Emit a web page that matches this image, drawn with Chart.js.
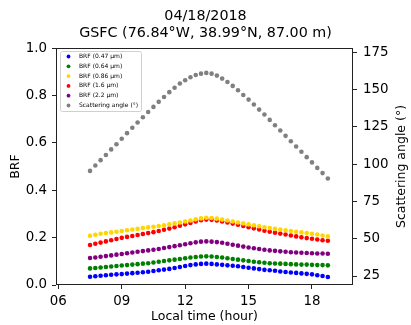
<!DOCTYPE html>
<html>
<head>
<meta charset="utf-8">
<script src="https://cdn.jsdelivr.net/npm/chart.js@4.4.1/dist/chart.umd.min.js"></script>
<style>
    html, body { margin: 0; padding: 0; background: #fff; }
    #wrap { width: 411px; height: 325px; position: relative; }
</style>
</head>
<body>
<div id="wrap"><canvas id="brfChart"></canvas></div>
<script>
// Heure locale des mesures (pas de 15 min)
const heures = [7.5, 7.75, 8, 8.25, 8.5, 8.75, 9, 9.25, 9.5, 9.75, 10, 10.25, 10.5, 10.75, 11, 11.25,
    11.5, 11.75, 12, 12.25, 12.5, 12.75, 13, 13.25, 13.5, 13.75, 14, 14.25, 14.5, 14.75, 15, 15.25,
    15.5, 15.75, 16, 16.25, 16.5, 16.75, 17, 17.25, 17.5, 17.75, 18, 18.25, 18.5, 18.75];

// BRF par longueur d'onde
const brf047 = [0.035, 0.037, 0.039, 0.041, 0.043, 0.045, 0.046, 0.048, 0.050, 0.052, 0.054, 0.056,
    0.059, 0.062, 0.065, 0.068, 0.072, 0.076, 0.080, 0.084, 0.087, 0.089, 0.090, 0.089, 0.087, 0.085,
    0.083, 0.081, 0.079, 0.076, 0.073, 0.070, 0.067, 0.064, 0.062, 0.060, 0.057, 0.055, 0.053, 0.051,
    0.049, 0.047, 0.045, 0.041, 0.038, 0.034];
const brf064 = [0.070, 0.072, 0.074, 0.076, 0.078, 0.080, 0.082, 0.084, 0.086, 0.088, 0.090, 0.092,
    0.095, 0.098, 0.101, 0.104, 0.107, 0.110, 0.113, 0.116, 0.118, 0.120, 0.121, 0.120, 0.118, 0.116,
    0.113, 0.110, 0.107, 0.104, 0.101, 0.098, 0.096, 0.094, 0.092, 0.091, 0.090, 0.089, 0.088, 0.087,
    0.086, 0.086, 0.085, 0.084, 0.084, 0.083];
const brf086 = [0.208, 0.212, 0.216, 0.219, 0.222, 0.225, 0.228, 0.231, 0.234, 0.237, 0.240, 0.243,
    0.246, 0.249, 0.252, 0.256, 0.260, 0.264, 0.268, 0.272, 0.277, 0.281, 0.284, 0.283, 0.280, 0.276,
    0.272, 0.268, 0.264, 0.260, 0.256, 0.252, 0.248, 0.244, 0.240, 0.237, 0.234, 0.231, 0.228, 0.225,
    0.222, 0.219, 0.216, 0.213, 0.209, 0.205];
const brf16 = [0.169, 0.174, 0.179, 0.184, 0.189, 0.194, 0.199, 0.203, 0.207, 0.211, 0.215, 0.219,
    0.223, 0.228, 0.233, 0.238, 0.244, 0.250, 0.256, 0.262, 0.268, 0.273, 0.276, 0.275, 0.272, 0.268,
    0.264, 0.259, 0.254, 0.249, 0.244, 0.239, 0.234, 0.229, 0.225, 0.221, 0.217, 0.213, 0.209, 0.205,
    0.201, 0.198, 0.195, 0.192, 0.189, 0.187];
const brf22 = [0.114, 0.116, 0.119, 0.122, 0.125, 0.128, 0.131, 0.134, 0.137, 0.140, 0.143, 0.146,
    0.149, 0.152, 0.156, 0.160, 0.164, 0.168, 0.172, 0.176, 0.180, 0.183, 0.184, 0.183, 0.181, 0.178,
    0.174, 0.170, 0.166, 0.162, 0.158, 0.155, 0.152, 0.149, 0.146, 0.144, 0.142, 0.140, 0.138, 0.137,
    0.136, 0.135, 0.134, 0.133, 0.133, 0.132];

// Angle de diffusion (degrés)
const angleDiffusion = [95.5, 99.1, 102.7, 106.2, 109.9, 113.4, 117.1, 120.8, 124.4, 128.0, 131.5,
    135.0, 138.4, 141.8, 145.1, 148.3, 151.3, 154.1, 156.3, 158.3, 159.8, 160.7, 161.2, 160.7, 159.4,
    157.4, 155.1, 152.5, 149.6, 146.4, 143.3, 140.0, 136.6, 133.3, 129.7, 126.1, 122.6, 119.0, 115.4,
    111.9, 108.3, 104.7, 101.2, 97.5, 94.0, 90.4];

// Graduations des axes
const ticksHeures = [6, 9, 12, 15, 18];
const ticksBrf = [0, 0.2, 0.4, 0.6, 0.8, 1.0];
const ticksAngle = [25, 50, 75, 100, 125, 150, 175];

const police = 'DejaVu Sans';

function serie(label, valeurs, couleur, axe) {
    return {
        label: label,
        data: heures.map((h, i) => ({ x: h, y: valeurs[i] })),
        backgroundColor: couleur,
        borderWidth: 0,
        pointRadius: 2.3,
        pointHoverRadius: 2.3,
        yAxisID: axe
    };
}

// Cadre des axes, titre de l'axe droit (lu de bas en haut) et légende
const cadreEtLegende = {
    id: 'cadreEtLegende',
    afterDatasetsDraw(chart) {
        const ctx = chart.ctx;
        const a = chart.chartArea;
        ctx.save();
        ctx.strokeStyle = '#222';
        ctx.lineWidth = 1;
        ctx.strokeRect(Math.round(a.left) + 0.5, Math.round(a.top) + 0.5,
            Math.round(a.right - a.left) - 1, Math.round(a.bottom - a.top) - 1);

        // titre de l'axe y1
        ctx.save();
        ctx.translate(chart.width - 9.5, (a.top + a.bottom) / 2);
        ctx.rotate(-Math.PI / 2);
        ctx.font = '12.5px "' + police + '"';
        ctx.fillStyle = '#000';
        ctx.textAlign = 'center';
        ctx.textBaseline = 'middle';
        ctx.fillText('Scattering angle (°)', 0, 0);
        ctx.restore();

        const x0 = a.left + 4, y0 = a.top + 3, w = 81, h = 60;
        ctx.beginPath();
        ctx.roundRect(x0 + 0.5, y0 + 0.5, w, h, 2);
        ctx.fillStyle = 'rgba(255,255,255,0.8)';
        ctx.fill();
        ctx.strokeStyle = '#d0d0d0';
        ctx.stroke();

        ctx.font = '6px "' + police + '"';
        ctx.textBaseline = 'middle';
        chart.data.datasets.forEach((ds, i) => {
            const y = y0 + 5.5 + i * 9.8;
            ctx.fillStyle = ds.backgroundColor;
            ctx.beginPath();
            ctx.arc(x0 + 8.5, y, 1.9, 0, Math.PI * 2);
            ctx.fill();
            ctx.fillStyle = '#000';
            ctx.fillText(ds.label, x0 + 19, y);
        });
        ctx.restore();
    }
};

document.addEventListener('DOMContentLoaded', function() {
    const ctx = document.getElementById('brfChart').getContext('2d');

    new Chart(ctx, {
        type: 'scatter',
        data: {
            datasets: [
                serie('BRF (0.47 μm)', brf047, '#0000ff', 'y'),
                serie('BRF (0.64 μm)', brf064, '#008000', 'y'),
                serie('BRF (0.86 μm)', brf086, '#ffd700', 'y'),
                serie('BRF (1.6 μm)', brf16, '#ff0000', 'y'),
                serie('BRF (2.2 μm)', brf22, '#800080', 'y'),
                serie('Scattering angle (°)', angleDiffusion, '#808080', 'y1')
            ]
        },
        options: {
            responsive: true,
            maintainAspectRatio: false,
            animation: false,
            events: [],
            layout: { padding: 0 },
            plugins: {
                legend: { display: false },
                tooltip: { enabled: false },
                title: {
                    display: true,
                    text: ['04/18/2018', 'GSFC (76.84°W, 38.99°N, 87.00 m)'],
                    color: '#000',
                    font: { family: police, size: 14.3, weight: 'normal' },
                    padding: { top: 7.4, bottom: 6.3 }
                }
            },
            scales: {
                x: {
                    type: 'linear',
                    min: 5.89,
                    max: 19.94,
                    afterFit: s => { s.height = 40; },
                    afterBuildTicks: s => { s.ticks = ticksHeures.map(v => ({ value: v })); },
                    border: { display: false },
                    grid: { drawOnChartArea: false, tickLength: 4, color: '#222' },
                    ticks: {
                        color: '#000',
                        padding: 4,
                        maxRotation: 0,
                        font: { family: police, size: 13.4 },
                        callback: v => String(v).padStart(2, '0')
                    },
                    title: {
                        display: true,
                        text: 'Local time (hour)',
                        color: '#000',
                        font: { family: police, size: 12.5 },
                        padding: { top: 0, bottom: 1 }
                    }
                },
                y: {
                    position: 'left',
                    min: 0,
                    max: 1,
                    afterFit: s => { s.width = 56; },
                    afterBuildTicks: s => { s.ticks = ticksBrf.map(v => ({ value: v })); },
                    border: { display: false },
                    grid: { drawOnChartArea: false, tickLength: 4, color: '#222' },
                    ticks: {
                        color: '#000',
                        padding: 5,
                        font: { family: police, size: 13.4 },
                        callback: v => v.toFixed(1)
                    },
                    title: {
                        display: true,
                        text: 'BRF',
                        color: '#000',
                        font: { family: police, size: 12.5 },
                        padding: { top: 8, bottom: 0 }
                    }
                },
                y1: {
                    position: 'right',
                    min: 18.97,
                    max: 177.9,
                    afterFit: s => { s.width = 58; },
                    afterBuildTicks: s => { s.ticks = ticksAngle.map(v => ({ value: v })); },
                    border: { display: false },
                    grid: { drawOnChartArea: false, tickLength: 4, color: '#222' },
                    ticks: {
                        color: '#000',
                        padding: 6,
                        font: { family: police, size: 13.4 },
                        callback: v => String(v)
                    }
                }
            }
        },
        plugins: [cadreEtLegende]
    });
});
</script>
</body>
</html>
